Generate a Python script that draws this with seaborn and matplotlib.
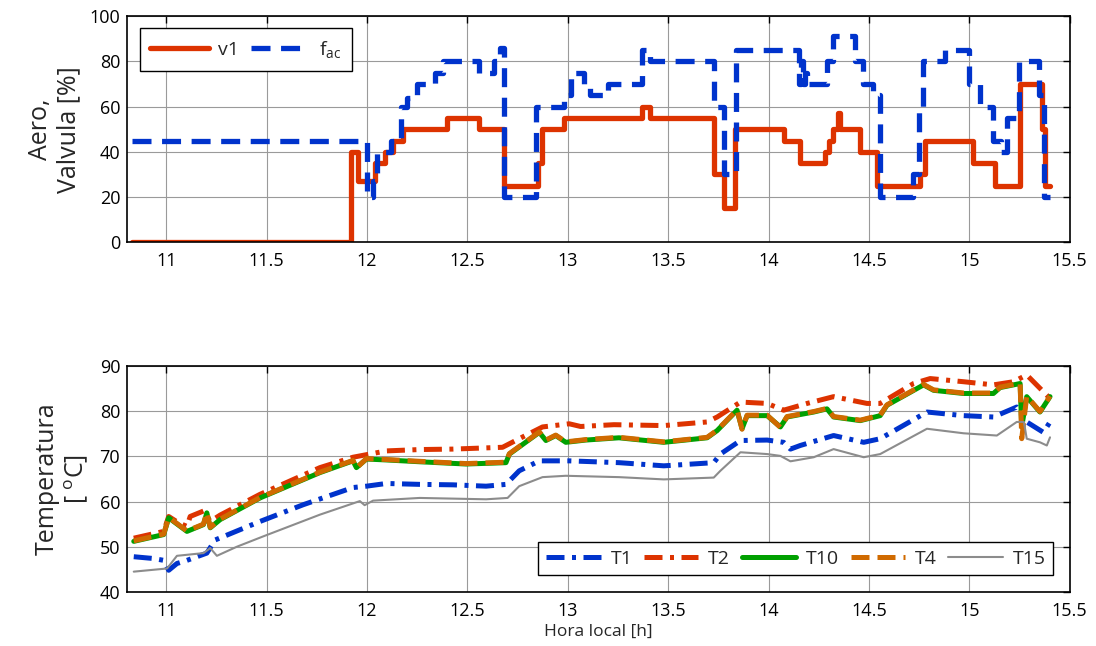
import numpy as np
import pandas as pd
import matplotlib
matplotlib.use("Agg")
import matplotlib.pyplot as plt
import seaborn as sns

# ---------------- data ----------------
v1_t = [10.83, 11.922, 11.955, 12.04, 12.09, 12.13, 12.18, 12.40, 12.56, 12.68,
        12.85, 12.87, 12.98, 13.37, 13.41, 13.727, 13.777, 13.835, 14.075, 14.158,
        14.283, 14.30, 14.32, 14.345, 14.355, 14.457, 14.54, 14.755, 14.78, 15.02,
        15.128, 15.253, 15.36, 15.376, 15.40]
v1 = [0, 40, 27, 35, 40, 45, 50, 55, 50, 25,
      35, 50, 55, 60, 55, 30, 15, 50, 45, 35,
      40, 45, 50, 57, 50, 40, 25, 30, 45, 35,
      25, 70, 50, 25, 25]

fac_t = [10.83, 12.0, 12.03, 12.05, 12.12, 12.17, 12.2, 12.25, 12.34, 12.38,
         12.56, 12.63, 12.66, 12.68, 12.84, 12.98, 13.015, 13.08, 13.11, 13.2,
         13.37, 13.41, 13.727, 13.777, 13.84, 14.15, 14.16, 14.17, 14.18, 14.19,
         14.29, 14.32, 14.43, 14.47, 14.52, 14.556, 14.72, 14.75, 14.77, 14.88,
         15.0, 15.054, 15.12, 15.16, 15.19, 15.245, 15.345, 15.37, 15.40]
fac = [45, 20, 27, 40, 45, 60, 64, 70, 75, 80,
       75, 80, 86, 20, 60, 65, 75, 70, 65, 70,
       85, 80, 60, 30, 85, 70, 80, 70, 75, 70,
       80, 91, 80, 70, 65, 20, 30, 60, 80, 85,
       70, 60, 45, 40, 55, 80, 65, 20, 20]

t2_t = [10.838, 10.987, 11.012, 11.061, 11.103, 11.119, 11.185, 11.219, 11.268, 11.467,
        11.765, 11.930, 12.096, 12.262, 12.427, 12.675, 12.758, 12.874, 13.007, 13.064,
        13.230, 13.478, 13.694, 13.744, 13.860, 13.993, 14.075, 14.192, 14.324, 14.490,
        14.556, 14.722, 14.805, 14.971, 15.120, 15.220, 15.286, 15.402]
t2 = [51.9, 53.4, 56.7, 55.3, 54.5, 56.7, 57.9, 55.6, 57.0, 61.6,
      67.5, 69.8, 71.2, 71.5, 71.6, 72.0, 73.9, 76.5, 77.2, 76.6,
      77.0, 76.8, 77.6, 78.7, 82.0, 81.7, 80.2, 81.7, 83.2, 81.7,
      81.7, 86.1, 87.2, 86.5, 85.8, 86.5, 88.0, 82.8]

t10_t = [10.838, 10.987, 11.012, 11.103, 11.185, 11.202, 11.219, 11.268, 11.467, 11.765,
         11.930, 11.947, 11.997, 12.096, 12.262, 12.493, 12.692, 12.709, 12.858, 12.891,
         12.940, 12.990, 13.089, 13.255, 13.478, 13.694, 13.744, 13.843, 13.868, 13.893,
         13.993, 14.059, 14.092, 14.225, 14.291, 14.324, 14.457, 14.556, 14.590, 14.772,
         14.822, 14.971, 15.120, 15.153, 15.253, 15.261, 15.286, 15.352, 15.402]
t10 = [51.2, 52.7, 56.4, 53.4, 54.9, 57.5, 54.2, 56.0, 60.8, 66.4,
       69.0, 67.5, 69.4, 69.2, 68.8, 68.3, 68.6, 70.5, 75.3, 73.5,
       74.6, 73.1, 73.6, 74.1, 73.1, 74.1, 75.7, 80.2, 76.1, 79.0,
       79.0, 76.5, 78.7, 79.8, 80.5, 78.7, 77.9, 79.0, 81.3, 85.8,
       84.6, 83.9, 83.9, 85.2, 86.1, 76.5, 83.2, 79.8, 83.2]
t4 = [51.3, 52.8, 56.5, 53.5, 55.0, 57.6, 54.3, 56.1, 60.9, 66.5,
      69.1, 67.4, 69.5, 69.3, 68.9, 68.4, 68.7, 70.6, 75.4, 73.6,
      74.7, 73.2, 73.7, 74.2, 73.2, 74.2, 75.8, 80.3, 76.0, 79.1,
      79.1, 76.4, 78.8, 79.9, 80.6, 78.8, 78.0, 79.1, 81.4, 85.9,
      84.7, 84.0, 84.0, 85.3, 86.2, 73.9, 83.3, 79.9, 83.3]

t1_t = [10.838, 10.937, 10.987, 11.012, 11.053, 11.103, 11.202, 11.243, 11.467, 11.682,
        11.930, 11.997, 12.096, 12.262, 12.427, 12.593, 12.692, 12.758, 12.858, 13.007,
        13.255, 13.478, 13.727, 13.760, 13.860, 13.993, 14.075, 14.109, 14.158, 14.324,
        14.474, 14.556, 14.789, 14.971, 15.120, 15.236, 15.286, 15.369, 15.402]
t1 = [47.8, 47.4, 47.0, 44.8, 46.3, 47.0, 48.6, 51.5, 55.6, 59.3,
      63.1, 63.4, 64.0, 63.8, 63.7, 63.4, 63.8, 66.8, 69.0, 69.0,
      68.6, 67.9, 68.6, 70.5, 73.5, 73.6, 73.1, 71.6, 72.4, 74.6,
      73.1, 73.9, 79.8, 79.0, 78.7, 80.9, 77.6, 75.3, 77.6]

t15_t = [10.838, 11.004, 11.053, 11.185, 11.219, 11.252, 11.351, 11.483, 11.765, 11.964,
         11.988, 12.030, 12.262, 12.593, 12.700, 12.758, 12.874, 12.990, 13.255, 13.478,
         13.727, 13.760, 13.860, 13.993, 14.059, 14.109, 14.225, 14.324, 14.474, 14.556,
         14.789, 14.971, 15.137, 15.236, 15.272, 15.286, 15.352, 15.386, 15.402]
t15 = [44.5, 45.2, 48.0, 48.6, 49.7, 48.0, 50.0, 52.3, 57.1, 60.1,
       59.2, 60.2, 60.8, 60.5, 60.8, 63.4, 65.4, 65.7, 65.4, 64.9,
       65.3, 66.8, 70.9, 70.5, 70.1, 68.9, 69.8, 71.6, 69.8, 70.5,
       76.1, 75.1, 74.6, 77.6, 77.6, 73.9, 73.1, 72.4, 74.2]

x_ticks = [11, 11.5, 12, 12.5, 13, 13.5, 14, 14.5, 15, 15.5]
x_ticklabels = ["11", "11.5", "12", "12.5", "13", "13.5", "14", "14.5", "15", "15.5"]
top_yticks = [0, 20, 40, 60, 80, 100]
bot_yticks = [40, 50, 60, 70, 80, 90]

# ---------------- style ----------------
sns.set_style("white")
plt.rcParams["font.family"] = ["Open Sans", "DejaVu Sans"]
plt.rcParams["mathtext.fontset"] = "custom"
plt.rcParams["mathtext.rm"] = "Open Sans"
plt.rcParams["mathtext.it"] = "Open Sans"

RED = "#DD3300"
BLUE = "#0033CC"
GREEN = "#00A000"
ORANGE = "#D06A00"
GRAY = "#8C8C8C"

fig = plt.figure(figsize=(10.96, 6.46), dpi=100)
ax1 = fig.add_axes([0.116, 0.625, 0.860, 0.350])
ax2 = fig.add_axes([0.116, 0.0836, 0.860, 0.350])

df_v1 = pd.DataFrame({"t": v1_t, "v": v1})
df_fac = pd.DataFrame({"t": fac_t, "v": fac})

sns.lineplot(data=df_v1, x="t", y="v", ax=ax1, color=RED, lw=3.8,
             drawstyle="steps-post", label="v1", estimator=None)
sns.lineplot(data=df_fac, x="t", y="v", ax=ax1, color=BLUE, lw=3.8,
             drawstyle="steps-post", label=r"f$_{\mathrm{ac}}$", estimator=None)
ax1.lines[1].set_dashes([3.6, 2.0])

series = [
    ("T1", t1_t, t1, BLUE, 3.6, [3.6, 1.5, 0.8, 1.5]),
    ("T2", t2_t, t2, RED, 3.6, [3.6, 1.5, 0.8, 1.5]),
    ("T10", t10_t, t10, GREEN, 3.6, None),
    ("T4", t10_t, t4, ORANGE, 3.6, [3.6, 1.6]),
    ("T15", t15_t, t15, GRAY, 1.5, None),
]
for name, tt, vv, col, lw, dash in series:
    d = pd.DataFrame({"t": tt, "v": vv})
    sns.lineplot(data=d, x="t", y="v", ax=ax2, color=col, lw=lw, label=name,
                 estimator=None, sort=False)
    if dash is not None:
        ax2.lines[-1].set_dashes(dash)

for ax, yt in ((ax1, top_yticks), (ax2, bot_yticks)):
    ax.set_xlim(10.805, 15.5)
    ax.set_ylim(yt[0], yt[-1])
    ax.set_xticks(x_ticks)
    ax.set_xticklabels(x_ticklabels)
    ax.set_yticks(yt)
    ax.grid(True, color="#9a9a9a", lw=0.8)
    ax.tick_params(direction="in", top=True, right=True, labelsize=13,
                   length=5, width=1, colors="black", pad=7)
    ax.tick_params(axis="y", pad=5)
    for s in ax.spines.values():
        s.set_color("black")
        s.set_linewidth(1.2)
    ax.set_xlabel("")

ax1.set_ylabel("Aero,\nValvula [%]", fontsize=18, labelpad=6, linespacing=1.15)
ax2.set_ylabel("Temperatura\n[ $^{\\mathrm{o}}$C]", fontsize=18, labelpad=6, linespacing=1.15)
ax2.set_xlabel("Hora local [h]", fontsize=12.5, labelpad=3)

leg1 = ax1.legend(loc="upper left", ncol=2, fontsize=14, frameon=True, fancybox=False,
                  edgecolor="black", framealpha=1, handlelength=3.0, columnspacing=0.6,
                  handletextpad=0.5, borderpad=0.55, bbox_to_anchor=(0.003, 0.99))
leg1.get_frame().set_linewidth(1.0)
leg2 = ax2.legend(loc="lower right", ncol=5, fontsize=14, frameon=True, fancybox=False,
                  edgecolor="black", framealpha=1, handlelength=2.8, columnspacing=0.6,
                  handletextpad=0.5, borderpad=0.4, bbox_to_anchor=(0.993, 0.03))
leg2.get_frame().set_linewidth(1.0)

fig.savefig("out.png", dpi=100)
